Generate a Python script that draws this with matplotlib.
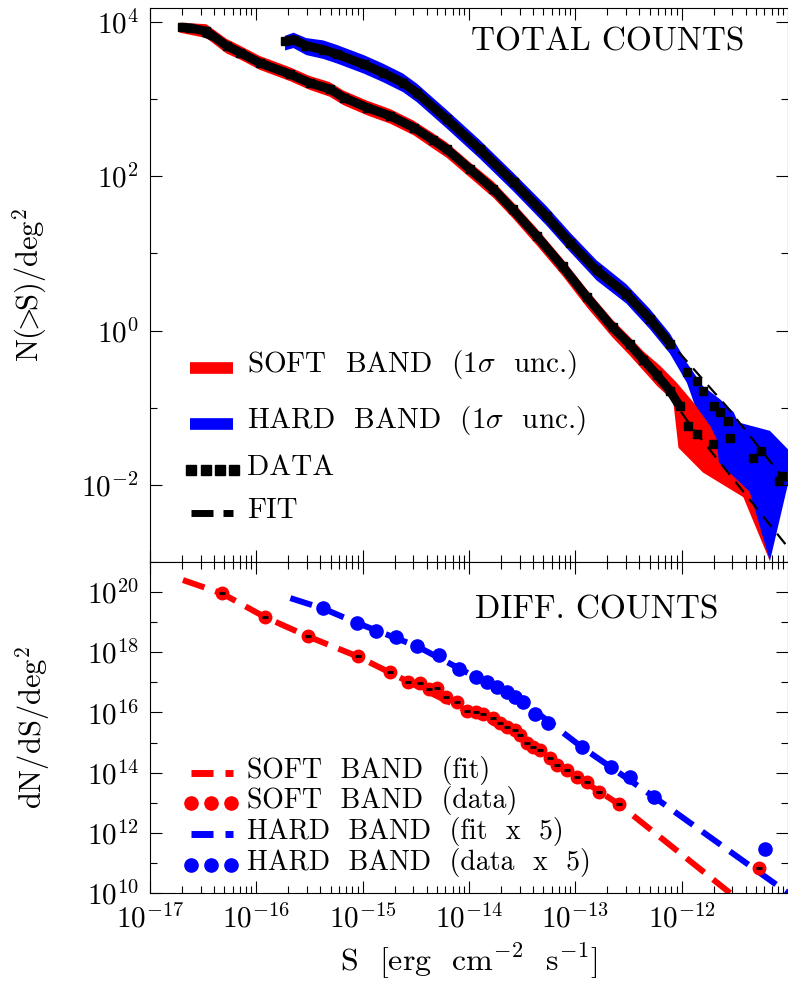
import numpy as np
import matplotlib
matplotlib.use('Agg')
import matplotlib.pyplot as plt
from matplotlib.ticker import FixedLocator, LogFormatterSciNotation, LogLocator, NullFormatter

plt.rcParams['font.family'] = 'serif'
plt.rcParams['font.serif'] = ['cmr10']
plt.rcParams['mathtext.fontset'] = 'cm'
plt.rcParams['axes.formatter.use_mathtext'] = True

# ---- cumulative counts (log10 S, log10 N(>S)) ----
soft_s = [-16.70, -16.62, -16.47, -16.28, -16.15, -15.97, -15.68, -15.50, -15.31, -15.18,
          -14.96, -14.74, -14.52, -14.34, -14.21, -13.99, -13.77, -13.59, -13.36, -13.12, -12.89,
          -12.65, -12.49, -12.36, -12.23, -12.11, -12.02, -11.94, -11.86, -11.71]
soft_n = [3.93, 3.92, 3.88, 3.69, 3.60, 3.47, 3.32, 3.21, 3.13, 3.02,
          2.89, 2.78, 2.63, 2.47, 2.35, 2.09, 1.83, 1.57, 1.22, 0.83, 0.43,
          0.04, -0.18, -0.38, -0.58, -0.78, -0.98, -1.24, -1.34, -1.47]
hard_s = [-15.73, -15.65, -15.53, -15.37, -15.24, -14.99, -14.81, -14.62, -14.49, -14.21,
          -13.90, -13.58, -13.27, -13.05, -12.80, -12.52, -12.30, -12.11, -11.95,
          -11.86, -11.80, -11.70, -11.64, -11.56, -11.55, -11.33, -11.25, -11.06, -11.08]
hard_n = [3.75, 3.77, 3.69, 3.64, 3.58, 3.45, 3.34, 3.21, 3.08, 2.74,
          2.35, 1.92, 1.48, 1.14, 0.78, 0.47, 0.15, -0.17, -0.54,
          -0.65, -0.78, -0.98, -1.06, -1.17, -1.39, -1.65, -1.56, -1.88, -1.95]

# 1 sigma envelopes (upper edge and lower edge, left to right)
soft_up_s = [-16.72, -16.47, -16.28, -16.15, -15.97, -15.68, -15.50, -15.31, -15.18, -14.96,
             -14.74, -14.52, -14.34, -14.21, -13.99, -13.77, -13.59, -13.36, -13.12, -12.89, -12.65,
             -12.49, -12.36, -12.20, -12.05, -11.89, -11.73, -11.67, -11.65, -11.36, -11.17]
soft_up_n = [3.99, 3.97, 3.78, 3.69, 3.56, 3.41, 3.30, 3.22, 3.11, 2.98,
             2.87, 2.72, 2.56, 2.44, 2.18, 1.93, 1.67, 1.32, 0.93, 0.53, 0.14,
             -0.08, -0.27, -0.46, -0.67, -0.93, -1.24, -1.41, -1.71, -2.09, -2.99]
soft_lo_s = [-16.72, -16.47, -16.28, -16.15, -15.97, -15.68, -15.50, -15.31, -15.18, -14.96,
             -14.74, -14.52, -14.34, -14.21, -13.99, -13.77, -13.59, -13.36, -13.12, -12.89, -12.65,
             -12.49, -12.36, -12.23, -12.08, -12.03, -11.80, -11.42, -11.17]
soft_lo_n = [3.86, 3.79, 3.59, 3.51, 3.38, 3.23, 3.12, 3.03, 2.92, 2.79,
             2.68, 2.53, 2.36, 2.24, 1.98, 1.72, 1.46, 1.10, 0.71, 0.30, -0.09,
             -0.32, -0.52, -0.72, -0.91, -1.52, -1.84, -2.16, -2.99]
hard_up_s = [-15.73, -15.65, -15.53, -15.37, -15.24, -14.99, -14.81, -14.62, -14.49, -14.21,
             -13.90, -13.58, -13.27, -13.05, -12.80, -12.52, -12.30, -12.11, -11.95, -11.80,
             -11.64, -11.51, -11.47, -11.17, -11.00, -11.00]
hard_up_n = [3.82, 3.86, 3.79, 3.76, 3.70, 3.57, 3.46, 3.33, 3.20, 2.86,
             2.47, 2.04, 1.61, 1.27, 0.91, 0.60, 0.28, -0.04, -0.42, -0.72,
             -0.89, -1.06, -1.19, -1.30, -1.54, -1.99]
hard_lo_s = [-15.73, -15.65, -15.53, -15.37, -15.24, -14.99, -14.81, -14.62, -14.49, -14.21,
             -13.90, -13.58, -13.27, -13.05, -12.80, -12.52, -12.30, -12.11, -11.95, -11.83,
             -11.67, -11.64, -11.385, -11.17]
hard_lo_n = [3.63, 3.66, 3.57, 3.52, 3.46, 3.33, 3.22, 3.09, 2.96, 2.62,
             2.23, 1.80, 1.36, 1.02, 0.65, 0.35, 0.02, -0.30, -0.68, -1.15,
             -1.71, -1.76, -2.09, -2.99]

# best-fit curves
soft_fit_s = [-16.70, -16.28, -15.68, -15.18, -14.74, -14.34, -13.99, -13.59, -13.12, -12.65,
              -12.36, -12.11, -11.89, -11.00]
soft_fit_n = [3.93, 3.69, 3.32, 3.02, 2.78, 2.47, 2.09, 1.57, 0.83, 0.04,
              -0.38, -0.85, -1.28, -2.81]
hard_fit_s = [-15.73, -15.24, -14.81, -14.49, -14.21, -13.90, -13.58, -13.27, -13.05, -12.80,
              -12.52, -12.30, -12.11, -11.58, -11.00]
hard_fit_n = [3.75, 3.58, 3.34, 3.08, 2.74, 2.35, 1.92, 1.48, 1.14, 0.78,
              0.47, 0.15, -0.15, -0.98, -1.99]

# ---- differential counts (log10 S, log10 dN/dS) ----
dsoft_s = [-16.32, -15.92, -15.51, -15.04, -14.74, -14.57, -14.46, -14.38, -14.30, -14.22,
           -14.11, -14.02, -13.93, -13.87, -13.77, -13.71, -13.64, -13.57, -13.52, -13.45,
           -13.40, -13.33, -13.24, -13.17, -13.08, -12.98, -12.89, -12.78, -12.59, -11.27]
dsoft_d = [19.97, 19.17, 18.54, 17.87, 17.34, 17.01, 16.98, 16.78, 16.81, 16.51,
           16.35, 16.05, 16.01, 15.95, 15.81, 15.65, 15.51, 15.42, 15.25, 14.98,
           14.85, 14.75, 14.49, 14.25, 14.09, 13.85, 13.69, 13.36, 12.96, 10.83]
dhard_s = [-15.37, -15.05, -14.87, -14.69, -14.49, -14.28, -14.09, -13.93, -13.83, -13.74,
           -13.64, -13.57, -13.49, -13.38, -13.26, -12.94, -12.66, -12.49, -12.26, -11.22]
dhard_d = [19.47, 18.97, 18.70, 18.50, 18.21, 17.91, 17.44, 17.18, 17.01, 16.84,
           16.68, 16.51, 16.35, 15.95, 15.65, 14.85, 14.19, 13.85, 13.19, 11.46]
dsoft_fit_s = [-16.69, -16.32, -15.92, -15.51, -15.04, -14.56, -14.02, -13.52, -13.08, -12.59, -11.545]
dsoft_fit_d = [20.40, 19.95, 19.17, 18.52, 17.85, 17.00, 16.05, 15.25, 14.08, 12.95, 10.00]
dhard_fit_s = [-15.68, -15.37, -15.05, -14.49, -14.08, -13.49, -12.94, -12.26, -11.00]
dhard_fit_d = [19.80, 19.45, 18.97, 18.20, 17.44, 16.35, 14.85, 13.19, 10.00]


def p10(v):
    return 10.0 ** np.asarray(v)


fig = plt.figure(figsize=(7.88, 9.84), dpi=100)
ax1 = fig.add_axes([150 / 788, 1 - 562 / 984, 638 / 788, 554 / 984])
ax2 = fig.add_axes([150 / 788, 1 - 893 / 984, 638 / 788, 331 / 984])

# top panel
ax1.fill(p10(hard_up_s + hard_lo_s[::-1]), p10(hard_up_n + hard_lo_n[::-1]), color='blue', lw=0, zorder=1)
ax1.fill(p10(soft_up_s + soft_lo_s[::-1]), p10(soft_up_n + soft_lo_n[::-1]), color='red', lw=0, zorder=2)
for s, n in ((soft_s, soft_n), (hard_s, hard_n)):
    s = np.asarray(s)
    n = np.asarray(n)
    dense = s < -11.98
    ax1.plot(p10(s[dense]), p10(n[dense]), color='k', lw=6.5, solid_capstyle='butt',
             solid_joinstyle='round', zorder=3)
    ax1.plot(p10(s), p10(n), 's', color='k', ms=6, zorder=3)
for s, n in ((soft_fit_s, soft_fit_n), (hard_fit_s, hard_fit_n)):
    ax1.plot(p10(s), p10(n), color='k', lw=1.6, dashes=(6, 4), zorder=4)

# bottom panel
ax2.plot(p10(dsoft_fit_s), p10(dsoft_fit_d), color='red', lw=4.3, dashes=(3.8, 1.9), zorder=2)
ax2.plot(p10(dhard_fit_s), p10(dhard_fit_d), color='blue', lw=4.3, dashes=(3.8, 1.9), zorder=2)
ax2.plot(p10(dsoft_s), p10(dsoft_d), 'o', color='red', ms=9, zorder=3)
ax2.plot(p10(dsoft_s), p10(dsoft_d), '_', color='k', ms=4, mew=2, zorder=4)
ax2.plot(p10(dhard_s), p10(dhard_d), 'o', color='blue', ms=9.5, zorder=3)

# axes cosmetics
for ax in (ax1, ax2):
    ax.set_xscale('log')
    ax.set_yscale('log')
    ax.set_xlim(1e-17, 1e-11)
    ax.xaxis.set_major_locator(FixedLocator([1e-17, 1e-16, 1e-15, 1e-14, 1e-13, 1e-12]))
    ax.xaxis.set_minor_locator(LogLocator(base=10, subs=np.arange(2, 10), numticks=20))
    ax.xaxis.set_minor_formatter(NullFormatter())
    ax.yaxis.set_minor_formatter(NullFormatter())
    ax.yaxis.set_major_formatter(LogFormatterSciNotation())
    ax.tick_params(which='both', direction='in', top=True, right=True, width=0.8, labelsize=21)
    ax.tick_params(which='major', length=8.6, pad=8)
    ax.tick_params(which='minor', length=5)
    for sp in ax.spines.values():
        sp.set_linewidth(0.8)

ax1.set_ylim(10 ** -3.0, 10 ** 4.18)
ax1.yaxis.set_major_locator(FixedLocator([1e-2, 1e0, 1e2, 1e4]))
ax1.yaxis.set_minor_locator(FixedLocator([1e-3, 1e-1, 1e1, 1e3]))
ax1.tick_params(labelbottom=False)
ax2.set_ylim(1e10, 1e21)
ax2.yaxis.set_major_locator(FixedLocator([1e10, 1e12, 1e14, 1e16, 1e18, 1e20]))
ax2.yaxis.set_minor_locator(FixedLocator([1e11, 1e13, 1e15, 1e17, 1e19]))

ax1.set_ylabel(r'$\mathrm{N(}\!\!>\!\!\mathrm{S)/deg}^2$', fontsize=22)
ax1.yaxis.set_label_coords(-0.158, 0.5)
ax2.set_ylabel(r'$\mathrm{dN/dS/deg}^2$', fontsize=22)
ax2.yaxis.set_label_coords(-0.154, 0.5)
ax2.set_xlabel(r'S  [erg  cm$^{-2}$  s$^{-1}$]', fontsize=23)
ax2.xaxis.set_label_coords(0.5, -0.148)

ax1.text(0.503, 0.938, 'TOTAL COUNTS', transform=ax1.transAxes, fontsize=24, va='center')
ax2.text(0.509, 0.855, 'DIFF. COUNTS', transform=ax2.transAxes, fontsize=24, va='center')

# hand-placed legends
t1 = ax1.transAxes
ax1.plot([0.0627, 0.130], [0.351, 0.351], color='red', lw=8.4, solid_capstyle='butt', transform=t1)
ax1.plot([0.0627, 0.130], [0.250, 0.250], color='blue', lw=8.4, solid_capstyle='butt', transform=t1)
ax1.plot([0.065, 0.0878, 0.1097, 0.1317], [0.166] * 4, 's', color='k', ms=7, transform=t1)
ax1.plot([0.0643, 0.0987], [0.088, 0.088], color='k', lw=5, solid_capstyle='butt', transform=t1)
ax1.plot([0.1144, 0.130], [0.088, 0.088], color='k', lw=5, solid_capstyle='butt', transform=t1)
for y, lab in zip([0.356, 0.255, 0.170, 0.092],
                  [r'SOFT  BAND  (1$\sigma$  unc.)', r'HARD  BAND  (1$\sigma$  unc.)', 'DATA', 'FIT']):
    ax1.text(0.152, y, lab, transform=t1, fontsize=21, va='center')

t2 = ax2.transAxes
for y, c in ((0.362, 'red'), (0.177, 'blue')):
    ax2.plot([0.0638, 0.099], [y, y], color=c, lw=5, solid_capstyle='butt', transform=t2)
    ax2.plot([0.1176, 0.130], [y, y], color=c, lw=5, solid_capstyle='butt', transform=t2)
for y, c in ((0.271, 'red'), (0.0846, 'blue')):
    ax2.plot([0.0638, 0.0949, 0.1277], [y] * 3, 'o', color=c, ms=9.5, transform=t2)
for y, lab in zip([0.370, 0.279, 0.185, 0.093],
                  ['SOFT  BAND  (fit)', 'SOFT  BAND  (data)', 'HARD  BAND  (fit  x  5)',
                   'HARD  BAND  (data  x  5)']):
    ax2.text(0.152, y, lab, transform=t2, fontsize=20, va='center')

fig.savefig('out.png', dpi=100)
